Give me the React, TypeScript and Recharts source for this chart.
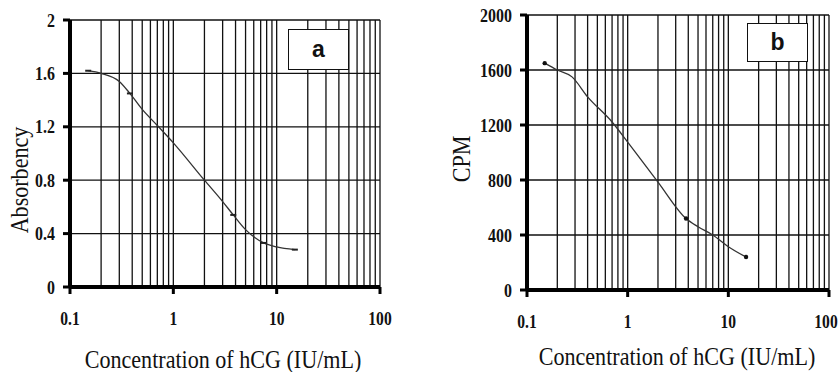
import {
  CartesianGrid,
  ComposedChart,
  Line,
  ReferenceLine,
  Scatter,
  XAxis,
  YAxis,
} from 'recharts';

// panel a: absorbency curve
const curveConcA = [0.15, 0.2, 0.3, 0.38, 0.5, 0.7, 1, 2, 3, 3.8, 5, 7.5, 10, 15];
const curveAbsA = [1.62, 1.6, 1.54, 1.45, 1.33, 1.21, 1.08, 0.8, 0.64, 0.54, 0.43, 0.33, 0.3, 0.28];
const markConcA = [0.15, 0.38, 3.8, 7.5, 15];
const markAbsA = [1.62, 1.45, 0.54, 0.33, 0.28];

// panel b: CPM curve
const curveConcB = [0.15, 0.2, 0.28, 0.4, 0.7, 1, 2, 3.8, 5, 7, 10, 15];
const curveCpmB = [1650, 1600, 1550, 1405, 1222, 1076, 785, 520, 460, 400, 315, 240];
const markConcB = [0.15, 3.8, 15];
const markCpmB = [1650, 520, 240];

const xTicks = [0.1, 1, 10, 100];
const logGrid = [
  0.2, 0.3, 0.4, 0.5, 0.6, 0.7, 0.8, 0.9, 1,
  2, 3, 4, 5, 6, 7, 8, 9, 10,
  20, 30, 40, 50, 60, 70, 80, 90, 100,
];
const yTicksA = [0, 0.4, 0.8, 1.2, 1.6, 2];
const yTicksB = [0, 400, 800, 1200, 1600, 2000];

const xTitle = 'Concentration of hCG (IU/mL)';

const curveA = curveConcA.map((x, i) => ({ x, y: curveAbsA[i] }));
const marksA = markConcA.map((x, i) => ({ x, y: markAbsA[i] }));
const curveB = curveConcB.map((x, i) => ({ x, y: curveCpmB[i] }));
const marksB = markConcB.map((x, i) => ({ x, y: markCpmB[i] }));

const SERIF = 'Liberation Serif';

const renderXTick = (props: any) => (
  <text
    transform={`translate(${props.x},${props.y}) scale(0.82,1)`}
    textAnchor="middle"
    dy="0.71em"
    style={{ fontFamily: SERIF, fontWeight: 'bold', fontSize: 19 }}
    fill="#111"
  >
    {props.payload.value}
  </text>
);

const renderYTick = (props: any) => (
  <text
    transform={`translate(${props.x},${props.y}) scale(0.84,1)`}
    textAnchor="end"
    dy="0.35em"
    style={{ fontFamily: SERIF, fontWeight: 'bold', fontSize: 19 }}
    fill="#111"
  >
    {props.payload.value}
  </text>
);

function Title({ x, y, text, rotate }: { x: number; y: number; text: string; rotate?: boolean }) {
  return (
    <text
      transform={`translate(${x},${y})${rotate ? ' rotate(-90)' : ''} scale(0.85,1)`}
      textAnchor="middle"
      style={{ fontFamily: SERIF, fontSize: 26 }}
      fill="#111"
    >
      {text}
    </text>
  );
}

const dash = (props: any) => (
  <line x1={props.cx - 3} x2={props.cx + 3} y1={props.cy} y2={props.cy} stroke="#222" strokeWidth={2} />
);
const dot = (props: any) => <circle cx={props.cx} cy={props.cy} r={2.2} fill="#111" />;

const boxStyle = {
  position: 'absolute' as const,
  border: '1.5px solid #111',
  background: '#fff',
  boxSizing: 'border-box' as const,
  display: 'flex',
  alignItems: 'center',
  justifyContent: 'center',
  fontFamily: '"Liberation Sans", Arial, sans-serif',
  fontWeight: 'bold' as const,
  fontSize: 23,
  color: '#111',
};

const axisStyle = { stroke: '#000', strokeWidth: 4 };
const tickStyle = { stroke: '#000', strokeWidth: 3 };

export default function App() {
  return (
    <div style={{ position: 'absolute', left: 0, top: 0, width: 838, height: 372, background: '#fff' }}>
      <div style={{ position: 'absolute', left: 0, top: 0 }}>
        <ComposedChart width={420} height={372} margin={{ top: 20, right: 40, left: 0, bottom: 0 }}>
          <CartesianGrid vertical={false} stroke="#111" strokeWidth={1.3} />
          {logGrid.map((v) => (
            <ReferenceLine key={v} x={v} stroke="#111" strokeWidth={1.3} />
          ))}
          <Line data={curveA} dataKey="y" type="monotone" stroke="#333" strokeWidth={1.3} dot={false} isAnimationActive={false} />
          <Scatter data={marksA} dataKey="y" shape={dash} isAnimationActive={false} />
          <XAxis
            dataKey="x"
            type="number"
            scale="log"
            domain={[0.1, 100]}
            ticks={xTicks}
            allowDataOverflow
            height={85}
            axisLine={axisStyle}
            tickLine={tickStyle}
            tickSize={7}
            tickMargin={18}
            tick={renderXTick}
          />
          <YAxis
            dataKey="y"
            type="number"
            domain={[0, 2]}
            ticks={yTicksA}
            width={70}
            axisLine={axisStyle}
            tickLine={tickStyle}
            tickSize={7}
            tickMargin={8}
            tick={renderYTick}
          />
        </ComposedChart>
      </div>
      <div style={{ position: 'absolute', left: 420, top: 0 }}>
        <ComposedChart width={418} height={372} margin={{ top: 15, right: 9, left: 0, bottom: 0 }}>
          <CartesianGrid vertical={false} stroke="#111" strokeWidth={1.3} />
          {logGrid.map((v) => (
            <ReferenceLine key={v} x={v} stroke="#111" strokeWidth={1.3} />
          ))}
          <Line data={curveB} dataKey="y" type="monotone" stroke="#333" strokeWidth={1.3} dot={false} isAnimationActive={false} />
          <Scatter data={marksB} dataKey="y" shape={dot} isAnimationActive={false} />
          <XAxis
            dataKey="x"
            type="number"
            scale="log"
            domain={[0.1, 100]}
            ticks={xTicks}
            allowDataOverflow
            height={82}
            axisLine={axisStyle}
            tickLine={tickStyle}
            tickSize={7}
            tickMargin={18}
            tick={renderXTick}
          />
          <YAxis
            dataKey="y"
            type="number"
            domain={[0, 2000]}
            ticks={yTicksB}
            width={107}
            axisLine={axisStyle}
            tickLine={tickStyle}
            tickSize={7}
            tickMargin={8}
            tick={renderYTick}
          />
        </ComposedChart>
      </div>
      <svg width={838} height={372} style={{ position: 'absolute', left: 0, top: 0, pointerEvents: 'none' }}>
        <Title x={223} y={368} text={xTitle} />
        <Title x={28} y={180} text="Absorbency" rotate />
        <Title x={677} y={365} text={xTitle} />
        <Title x={470} y={159} text="CPM" rotate />
      </svg>
      <div style={{ ...boxStyle, left: 288, top: 29, width: 61, height: 41 }}>a</div>
      <div style={{ ...boxStyle, left: 747, top: 23, width: 61, height: 39 }}>b</div>
    </div>
  );
}
